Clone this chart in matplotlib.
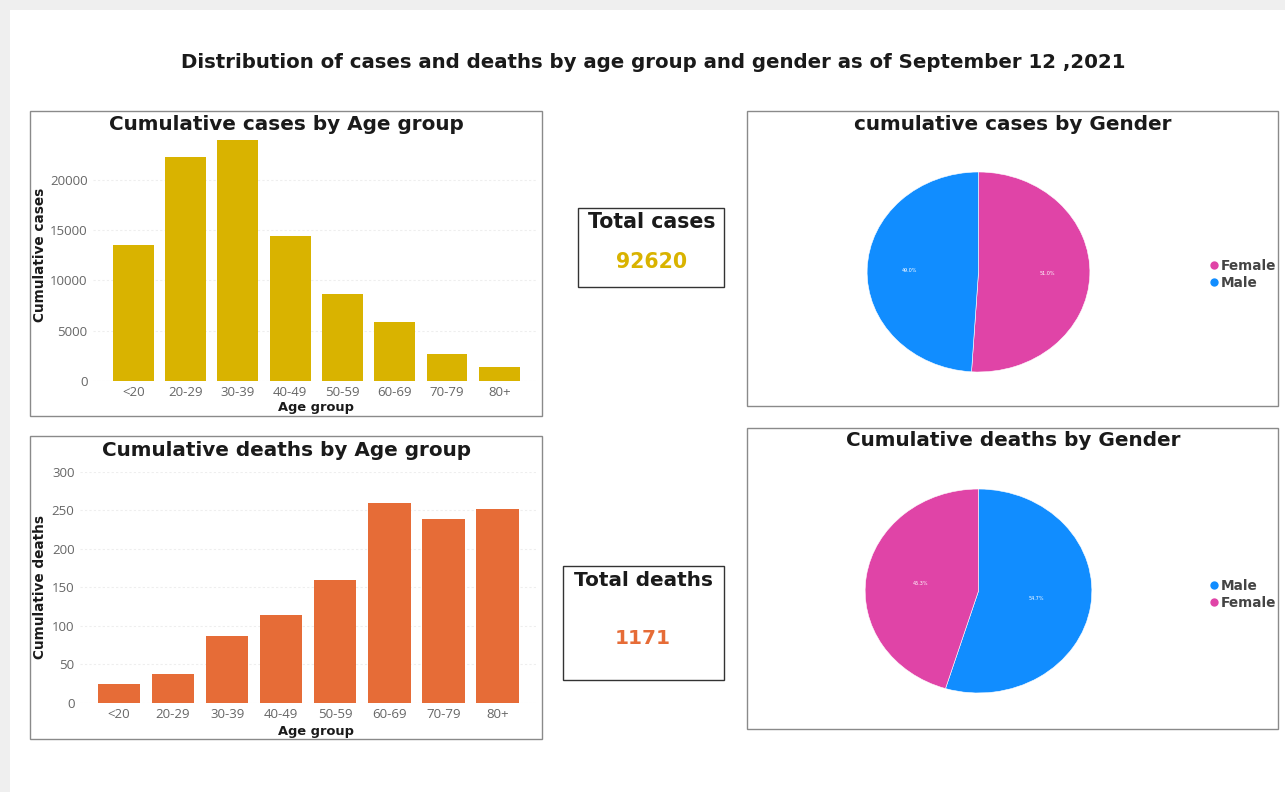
import matplotlib.pyplot as plt
from matplotlib.patches import Rectangle
from matplotlib.lines import Line2D

age_groups = ['<20', '20-29', '30-39', '40-49', '50-59', '60-69', '70-79', '80+']
cases_by_age = [13500, 22270, 23960, 14400, 8630, 5840, 2650, 1370]
deaths_by_age = [24, 37, 86, 114, 160, 259, 239, 252]
total_cases = 92620
total_deaths = 1171
cases_gender = ['Female', 'Male']
cases_gender_pct = [51.0, 49.0]
deaths_gender = ['Male', 'Female']
deaths_gender_pct = [54.7, 45.3]

gender_colors = {'Female': '#E044A7', 'Male': '#118DFF'}
gold = '#D9B300'
orange = '#E66C37'
tick_grey = '#666666'
title_col = '#1a1a1a'

W, H = 1285, 792
fig = plt.figure(figsize=(W / 100, H / 100), dpi=100, facecolor='#efefef')


def rect(x0, y0, x1, y1):
    return [x0 / W, 1 - y1 / H, (x1 - x0) / W, (y1 - y0) / H]


def fx(x):
    return x / W


def fy(y):
    return 1 - y / H


def box(x0, y0, x1, y1, color='#8a8a8a', lw=1.0):
    fig.add_artist(Rectangle((fx(x0), fy(y1)), (x1 - x0) / W, (y1 - y0) / H,
                             transform=fig.transFigure, fill=False,
                             edgecolor=color, linewidth=lw))


# white canvas
fig.add_artist(Rectangle((fx(10), 0), 1, fy(10), transform=fig.transFigure,
                         facecolor='white', edgecolor='none', zorder=-10))

fig.text(fx(653), fy(63), 'Distribution of cases and deaths by age group and gender as of September 12 ,2021',
         ha='center', va='center', fontsize=14.2, fontweight='bold', color=title_col)


def bar_panel(axrect, values, color, ylim, yticks, ylabel, title, title_xy, xlabel_y, ylabel_x, xlim):
    ax = fig.add_axes(axrect)
    ax.bar(range(len(age_groups)), values, width=0.78, color=color, zorder=3)
    ax.set_xlim(*xlim)
    ax.set_ylim(*ylim)
    ax.set_yticks(yticks)
    ax.set_xticks(range(len(age_groups)))
    ax.set_xticklabels(age_groups)
    ax.tick_params(length=0, labelsize=9.5, labelcolor=tick_grey, pad=4)
    for lab in ax.get_xticklabels() + ax.get_yticklabels():
        lab.set_family('Open Sans')
    ax.grid(axis='y', color='#eeeeee', linestyle=(0, (2, 2)), linewidth=0.8, zorder=0)
    for s in ax.spines.values():
        s.set_visible(False)
    ax.patch.set_alpha(0)
    fig.text(fx(title_xy[0]), fy(title_xy[1]), title, ha='center', va='center',
             fontsize=14.4, fontweight='bold', color=title_col)
    fig.text(fx(316), fy(xlabel_y), 'Age group', ha='center', va='center',
             fontsize=9.4, fontweight='bold', color=title_col)
    fig.text(fx(ylabel_x), (axrect[1] + axrect[3] / 2), ylabel, ha='center', va='center',
             rotation=90, fontsize=9.8, fontweight='bold', color=title_col)
    return ax


# cases by age
box(30, 111, 542, 416)
bar_panel(rect(93, 129.8, 536, 380.7), cases_by_age, gold, (0, 25000),
          [0, 5000, 10000, 15000, 20000], 'Cumulative cases',
          'Cumulative cases by Age group', (286, 125), 408, 40, (-0.77, 7.7))

# deaths by age
box(30, 436, 542, 739)
bar_panel(rect(80, 471.7, 536, 702.7), deaths_by_age, orange, (0, 300),
          [0, 50, 100, 150, 200, 250, 300], 'Cumulative deaths',
          'Cumulative deaths by Age group', (286, 450), 731, 40, (-0.72, 7.71))

# KPI cards
box(578, 208, 724, 287, color='#333333')
fig.text(fx(652), fy(222), 'Total cases', ha='center', va='center',
         fontsize=14.8, fontweight='bold', color=title_col)
fig.text(fx(652), fy(262), str(total_cases), ha='center', va='center',
         fontsize=14.8, fontweight='bold', color=gold)

box(563, 566, 724, 680, color='#333333')
fig.text(fx(644), fy(580), 'Total deaths', ha='center', va='center',
         fontsize=14.4, fontweight='bold', color=title_col)
fig.text(fx(643), fy(638), str(total_deaths), ha='center', va='center',
         fontsize=14.4, fontweight='bold', color=orange)


def pie_panel(axrect, labels, pcts, title, title_y, legend_y, pctdist):
    ax = fig.add_axes(axrect)
    cols = [gender_colors[g] for g in labels]
    wedges, texts, autotexts = ax.pie(pcts, colors=cols, startangle=90, counterclock=False,
                                      autopct='%.1f%%', pctdistance=pctdist,
                                      wedgeprops=dict(edgecolor='white', linewidth=0.4),
                                      textprops=dict(color='white', fontsize=3.5))
    ax.set_aspect('auto')
    ax.set_xlim(-1.01, 1.01)
    ax.set_ylim(-1.01, 1.01)
    ax.axis('off')
    fig.text(fx(1013), fy(title_y), title, ha='center', va='center',
             fontsize=14.4, fontweight='bold', color=title_col)
    handles = [Line2D([], [], marker='o', linestyle='none', markersize=6,
                      markerfacecolor=gender_colors[g], markeredgecolor='none') for g in labels]
    leg = fig.legend(handles, labels, loc='upper left', bbox_to_anchor=(fx(1201), fy(legend_y)),
                     frameon=False, handletextpad=0.05, labelspacing=0.25, handlelength=0.9,
                     borderpad=0, prop=dict(size=9.8, weight='bold'))
    for t in leg.get_texts():
        t.set_color('#444444')


box(747, 111, 1278, 406)
pie_panel(rect(866, 171, 1091, 373), cases_gender, cases_gender_pct,
          'cumulative cases by Gender', 125, 252, 0.62)

box(747, 428, 1278, 729)
pie_panel(rect(864, 488, 1093, 694), deaths_gender, deaths_gender_pct,
          'Cumulative deaths by Gender', 441, 572, 0.52)

fig.savefig('out.png', dpi=100, facecolor=fig.get_facecolor())
